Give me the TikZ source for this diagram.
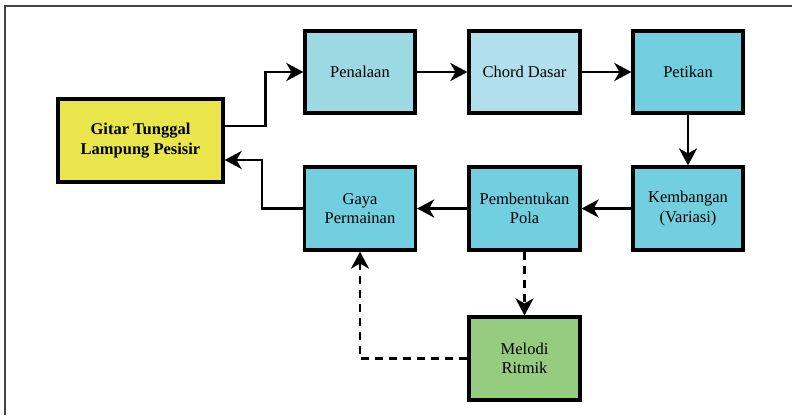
\documentclass[tikz,border=0pt]{standalone}
\usepackage{fontspec}
\setmainfont{Liberation Serif}
\usetikzlibrary{arrows.meta}

\definecolor{gitarfill}{HTML}{E9E64B}
\definecolor{tunefill}{HTML}{9DD9E3}
\definecolor{chordfill}{HTML}{B1E0EC}
\definecolor{mainfill}{HTML}{72CFDF}
\definecolor{melodyfill}{HTML}{96CC80}
\definecolor{framegray}{HTML}{444444}

\tikzset{
  box/.style={draw=black, line width=3.2pt, minimum width=110pt, minimum height=82pt,
    align=center, inner sep=2pt, font=\fontsize{16.5}{19.5}\selectfont},
  arr/.style={line width=2.8pt, -{Stealth[length=17pt, width=18pt, inset=5pt]}},
  dasharr/.style={arr, dash pattern=on 8pt off 6pt},
}

\begin{document}
\begin{tikzpicture}[x=1pt, y=-1pt]
  \useasboundingbox (0,0) rectangle (792,415);
  % open frame: top and left edges only
  \draw[framegray, line width=1.5pt] (5,415) -- (5,6) -- (792,6);

  % boxes
  \node[box, fill=gitarfill, minimum width=165pt, minimum height=83pt,
        font=\fontsize{16.5}{19.5}\selectfont\bfseries] (gitar) at (140.5,140.5)
        {Gitar Tunggal\\Lampung Pesisir};
  \node[box, fill=tunefill] (penalaan) at (360,72) {Penalaan};
  \node[box, fill=chordfill, minimum width=111pt] (chord) at (524.5,72) {Chord Dasar};
  \node[box, fill=mainfill] (petikan) at (688,72) {Petikan};
  \node[box, fill=mainfill, minimum height=83pt] (kembangan) at (688,208.5) {Kembangan\\(Variasi)};
  \node[box, fill=mainfill, minimum width=111pt, minimum height=83pt] (pola) at (524.5,208.5) {Pembentukan\\Pola};
  \node[box, fill=mainfill, minimum width=111pt, minimum height=83pt] (gaya) at (360,208.5) {Gaya\\Permainan};
  \node[box, fill=melodyfill, minimum width=111pt, minimum height=83pt] (melodi) at (524.5,358.5) {Melodi\\Ritmik};

  % connectors
  \draw[arr] ([yshift=14.5pt]gitar.east) -- ++(41,0) |- (penalaan.west);
  \draw[arr] (penalaan) -- (chord);
  \draw[arr] (chord) -- (petikan);
  \draw[arr] (petikan) -- (kembangan);
  \draw[arr] (kembangan) -- (pola);
  \draw[arr] (pola) -- (gaya);
  \draw[arr] (gaya.west) -- ++(-41,0) |- ([yshift=-19.5pt]gitar.east);
  \draw[dasharr] (pola) -- (melodi);
  \draw[dasharr] (melodi.west) -| (gaya.south);
\end{tikzpicture}
\end{document}
